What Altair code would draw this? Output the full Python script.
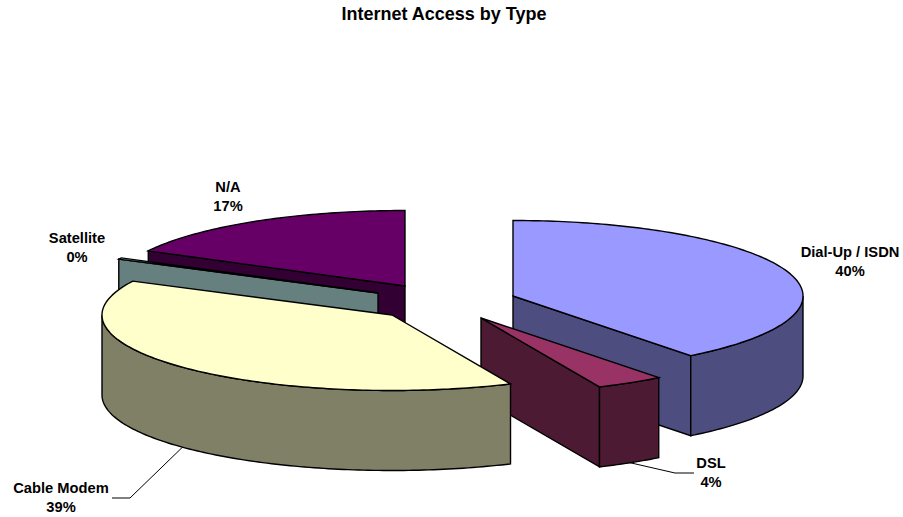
import math
import altair as alt

# Chart values
categories = ["Dial-Up / ISDN", "DSL", "Cable Modem", "Satellite", "N/A"]
shares = [39.5, 3.8, 39.1, 0.3, 17.3]
title_text = "Internet Access by Type"

# Drawing layout: exploded slice centres, ellipse radii, extrusion depth
W, H = 903, 517
RX, RY, DEPTH = 290, 75.5, 80
centres = {
    "Dial-Up / ISDN": (513, 296),
    "DSL": (481, 318),
    "Cable Modem": (392, 315),
    "Satellite": (378, 293),
    "N/A": (405, 286),
}
top_colors = {"Dial-Up / ISDN": "#9999FF", "DSL": "#993366", "Cable Modem": "#FFFFCC",
              "Satellite": "#CCFFFF", "N/A": "#660066"}
side_colors = {"Dial-Up / ISDN": "#4D4D80", "DSL": "#4D1A33", "Cable Modem": "#808066",
               "Satellite": "#668080", "N/A": "#330033"}
# name-line centre of each label
label_pos = {
    "Dial-Up / ISDN": (850, 253),
    "DSL": (711, 464),
    "Cable Modem": (61, 489),
    "Satellite": (77, 239),
    "N/A": (228, 188),
}
LINE_GAP = 19
# elbow and end of the leader lines
leaders = {"Cable Modem": ((130, 498), (112, 498)), "DSL": ((675, 473), (694, 473))}
# painter's order, back to front
paint_order = ["N/A", "Satellite", "Dial-Up / ISDN", "DSL", "Cable Modem"]


def rim(name, deg, drop=0.0):
    cx, cy = centres[name]
    a = math.radians(deg)
    return [cx + RX * math.sin(a), cy - RY * math.cos(a) + drop]


def arc(name, a0, a1, drop=0.0):
    n = max(2, int(abs(a1 - a0)) + 2)
    return [rim(name, a0 + (a1 - a0) * i / (n - 1), drop) for i in range(n)]


def poly(points, fill):
    ring = points + [points[0]]
    return {"type": "Feature", "properties": {"fill": fill},
            "geometry": {"type": "Polygon", "coordinates": [ring]}}


# Sweep angles follow the cumulative shares, clockwise from twelve o'clock
total = sum(shares)
sweep, acc = {}, 0.0
for name, v in zip(categories, shares):
    sweep[name] = (acc * 3.6 * 100 / total, (acc + v) * 3.6 * 100 / total)
    acc += v

features = []
for name in paint_order:
    a0, a1 = sweep[name]
    cx, cy = centres[name]
    apex, apex_low = [cx, cy], [cx, cy + DEPTH]
    side, top = side_colors[name], top_colors[name]
    # radial cut face turned towards the viewer
    if a1 <= 180:
        cut = a1
    elif a0 >= 180:
        cut = a0
    else:
        cut = None
    if cut is not None:
        features.append(poly([apex, rim(name, cut), rim(name, cut, DEPTH), apex_low], side))
    # outer wall: only the front half of the rim can be seen
    w0, w1 = max(a0, 90), min(a1, 270)
    if w1 > w0:
        features.append(poly(arc(name, w0, w1) + arc(name, w1, w0, DEPTH), side))
    features.append(poly([apex] + arc(name, a0, a1), top))

slices = (
    alt.Chart(alt.InlineData(values={"type": "FeatureCollection", "features": features},
                             format=alt.DataFormat(type="json", property="features")))
    .mark_geoshape(stroke="black", strokeWidth=1.4, strokeJoin="miter")
    .encode(fill=alt.Fill("properties.fill:N", scale=None))
    .project(type="identity", scale=1, translate=[0, 0])
)

# Leader lines start on the lower rim at each slice's mid angle
line_features = []
for name, (elbow, end) in leaders.items():
    a0, a1 = sweep[name]
    start = rim(name, (a0 + a1) / 2, DEPTH)
    line_features.append({"type": "Feature", "properties": {},
                           "geometry": {"type": "LineString",
                                        "coordinates": [start, list(elbow), list(end)]}})

leader_lines = (
    alt.Chart(alt.InlineData(values={"type": "FeatureCollection", "features": line_features},
                             format=alt.DataFormat(type="json", property="features")))
    .mark_geoshape(filled=False, stroke="black", strokeWidth=1)
    .project(type="identity", scale=1, translate=[0, 0])
)

label_rows = []
for name, v in zip(categories, shares):
    x, y = label_pos[name]
    label_rows.append({"x": x, "y": y, "t": name})
    label_rows.append({"x": x, "y": y + LINE_GAP, "t": f"{round(v)}%"})

labels = (
    alt.Chart(alt.Data(values=label_rows))
    .mark_text(font="Liberation Sans", fontWeight="bold", fontSize=14.7, color="black",
               align="center", baseline="middle")
    .encode(x=alt.X("x:Q", scale=None), y=alt.Y("y:Q", scale=None), text="t:N")
)

title = (
    alt.Chart(alt.Data(values=[{"x": 444, "y": 15, "t": title_text}]))
    .mark_text(font="Liberation Sans", fontWeight="bold", fontSize=18, color="black",
               align="center", baseline="middle")
    .encode(x=alt.X("x:Q", scale=None), y=alt.Y("y:Q", scale=None), text="t:N")
)

chart = (
    alt.layer(leader_lines, slices, labels, title)
    .properties(width=W, height=H, padding=0,
                autosize=alt.AutoSizeParams(type="none"), background="white")
    .configure_view(stroke=None)
)

chart.save("out.html", embed_options={"renderer": "svg", "actions": False})
